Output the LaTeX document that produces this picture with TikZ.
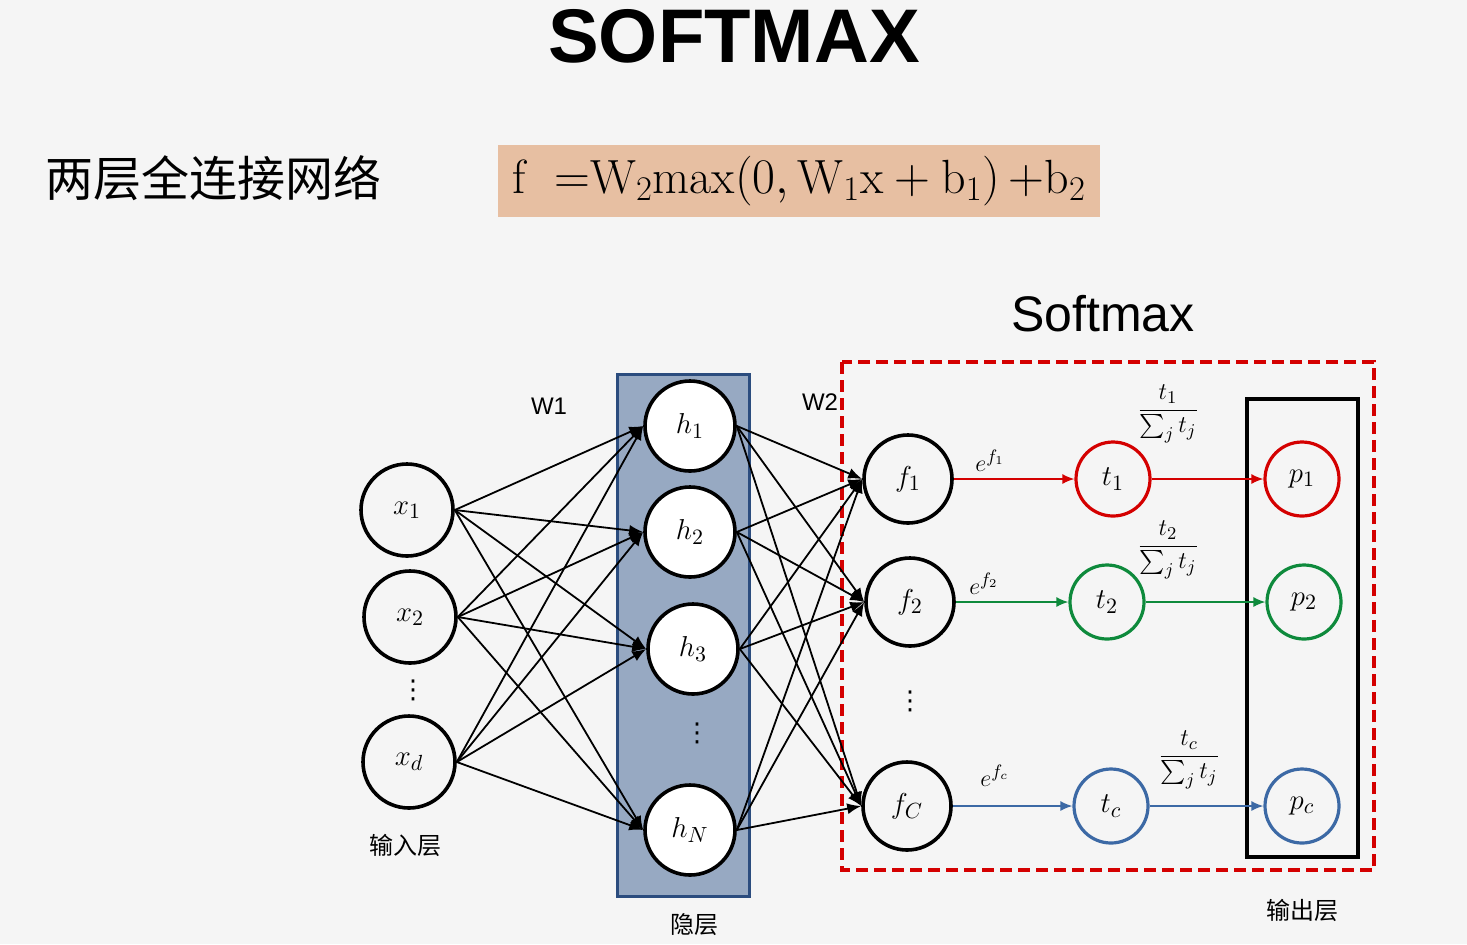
\documentclass[tikz,border=0pt]{standalone}
\usepackage{amsmath}
\usepackage{fontspec}
\setsansfont{Liberation Sans}
\newfontfamily\cjk{Noto Sans CJK SC}
\newfontfamily\dotsfont{DejaVu Sans}
\usepackage{xcolor}
\usepackage{tikz}
\usetikzlibrary{positioning,arrows.meta}

\definecolor{bgcol}{HTML}{F5F5F5}
\definecolor{peach}{HTML}{E7BFA2}
\definecolor{hidfill}{HTML}{97A9C2}
\definecolor{hidline}{HTML}{2B4C7E}
\definecolor{redc}{HTML}{D40000}
\definecolor{greenc}{HTML}{0E8A3C}
\definecolor{bluec}{HTML}{3C69A5}

\begin{document}
\begin{tikzpicture}[x=0.5pt,y=-0.5pt,
                every node/.append style = {font=\fontsize{13}{15}\selectfont},
                neuron/.style = {circle, draw=black, line width=1.8pt, inner sep=0pt, minimum size=46pt, font=\fontsize{15}{17}\selectfont},
                hidneuron/.style = {neuron, fill=white, minimum size=45pt},
                outneuron/.style = {neuron, minimum size=44pt},
                smnode/.style = {circle, line width=1.6pt, inner sep=0pt, minimum size=37pt, font=\fontsize{15}{17}\selectfont},
                vdotnode/.style = {font=\dotsfont\fontsize{13}{15}\selectfont},
                conn/.style = {line width=0.9pt, -{Latex[length=7pt,width=5.5pt]}},
                flow/.style = {line width=0.8pt, -{Latex[length=6pt,width=5pt]}},
                cnlabel/.style = {font=\cjk\fontsize{12}{14}\selectfont},
                wlabel/.style = {font=\sffamily\fontsize{12}{14}\selectfont}]
            % page
            \fill[bgcol] (0,0) rectangle (1467,944);
            \useasboundingbox (0,0) rectangle (1467,944);
            \node[font=\sffamily\bfseries\fontsize{38}{44}\selectfont] (title) at (734,36) {SOFTMAX};
            \node[anchor=west, font=\cjk\fontsize{24}{27}\selectfont] (twolayer) at (38,178) {两层全连接网络};
            \node[fill=peach, minimum width=301pt, minimum height=36pt, font=\fontsize{24}{28}\selectfont] (formula) at (799,181)
                {$\mathrm{f}\ \ {=}\mathrm{W}_2\mathrm{max}(0,\mathrm{W}_1\mathrm{x}+\mathrm{b}_1)\,{+}\mathrm{b}_2$};
            % boxes
            \draw[draw=hidline, fill=hidfill, line width=1.5pt] (617,374) rectangle (749,896);
            \draw[redc, line width=1.6pt, dash pattern=on 6pt off 3pt] (842,362) rectangle (1374,870);
            \draw[line width=1.6pt] (1247,399) rectangle (1358,857);
            \node[font=\sffamily\fontsize{25}{30}\selectfont] (smtitle) at (1103,314) {Softmax};
            % input layer
            \node[neuron] (x1) at (407,510) {$x_1$};
            \node[neuron] (x2) at (410,617) {$x_2$};
            \node[vdotnode] (xdots) at (413,690) {⋮};
            \node[neuron] (xd) at (409,762) {$x_d$};
            \node[cnlabel] (inlabel) at (405,845) {输入层};
            % hidden layer
            \node[hidneuron] (h1) at (690,426) {$h_1$};
            \node[hidneuron] (h2) at (690,532) {$h_2$};
            \node[hidneuron] (h3) at (693,649) {$h_3$};
            \node[vdotnode] (hdots) at (697,733) {⋮};
            \node[hidneuron] (hN) at (690,830) {$h_N$};
            \node[cnlabel] (hidlabel) at (694,925) {隐层};
            \node[wlabel] (w1) at (549,406) {W1};
            \node[wlabel] (w2) at (820,402) {W2};
            % softmax part
            \node[outneuron] (f1) at (908,479) {$f_1$};
            \node[outneuron] (f2) at (910,602) {$f_2$};
            \node[vdotnode] (fdots) at (910,701) {⋮};
            \node[outneuron] (fc) at (907,806) {$f_C$};
            \node[smnode, draw=redc] (t1) at (1113,479) {$t_1$};
            \node[smnode, draw=greenc] (t2) at (1107,602) {$t_2$};
            \node[smnode, draw=bluec] (tc) at (1111,806) {$t_c$};
            \node[smnode, draw=redc] (p1) at (1302,479) {$p_1$};
            \node[smnode, draw=greenc] (p2) at (1304,602) {$p_2$};
            \node[smnode, draw=bluec] (pc) at (1302,806) {$p_c$};
            \node[cnlabel] (outlabel) at (1302,910) {输出层};
            \node (frac1) at (1168,414) {$\dfrac{t_1}{\sum_j t_j}$};
            \node (frac2) at (1168,550) {$\dfrac{t_2}{\sum_j t_j}$};
            \node (fracc) at (1189,760) {$\dfrac{t_c}{\sum_j t_j}$};
            % full connections
            \foreach \src in {x1,x2,xd}
                \foreach \dst in {h1,h2,h3,hN}
                    \draw[conn] (\src.east) -- (\dst.west);
            \foreach \src in {h1,h2,h3,hN}
                \foreach \dst in {f1,f2,fc}
                    \draw[conn] (\src.east) -- (\dst.west);
            \draw[flow, redc] (f1) -- node[above, pos=0.3, text=black] {$e^{f_1}$} (t1);
            \draw[flow, greenc] (f2) -- node[above, pos=0.25, text=black] {$e^{f_2}$} (t2);
            \draw[flow, bluec] (fc) -- node[above=6pt, pos=0.35, text=black] {$e^{f_c}$} (tc);
            \draw[flow, redc] (t1) -- (p1);
            \draw[flow, greenc] (t2) -- (p2);
            \draw[flow, bluec] (tc) -- (pc);
            \end{tikzpicture}
\end{document}
